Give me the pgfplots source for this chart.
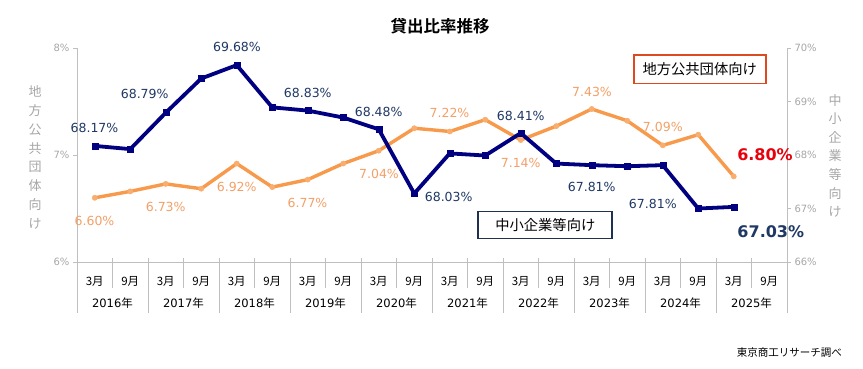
\documentclass[border=0pt]{standalone}
\usepackage{pgfplots}
\pgfplotsset{compat=1.18}
\usepackage{fontspec}
\setmainfont{DejaVu Sans}
\newfontfamily\jp{Noto Sans CJK JP}[BoldFont={Noto Sans CJK JP Bold}]
\definecolor{navyline}{HTML}{000080}
\definecolor{orangeline}{HTML}{F79A4B}
\definecolor{orangelab}{HTML}{F2A068}
\definecolor{navylab}{HTML}{1F3864}
\definecolor{tickgray}{HTML}{A6A6A6}
\definecolor{sepgray}{HTML}{BFBFBF}
\definecolor{redlab}{HTML}{E8000B}
\definecolor{boxred}{HTML}{DC4A1E}
\definecolor{boxnavy}{HTML}{1F3050}
\newcommand\fs[1]{\fontsize{#1bp}{#1bp}\selectfont}
\begin{document}
\begin{tikzpicture}
\path[use as bounding box] (0,0) rectangle (863bp,-369bp);
% left axis: 地方公共団体向け
\begin{axis}[at={(77bp,-262bp)}, anchor=south west, scale only axis,
  width=710bp, height=214bp, xmin=0, xmax=20, ymin=6, ymax=8,
  axis x line*=bottom, axis y line*=left,
  axis line style={draw=sepgray, line width=0.8bp, -},
  xtick={0.5,1.5,...,19.5},
  xticklabels={3月,9月,3月,9月,3月,9月,3月,9月,3月,9月,3月,9月,3月,9月,3月,9月,3月,9月,3月,9月},
  xticklabel style={font=\jp\fs{11.5}, anchor=center, yshift=-15.7bp},
  xtick style={draw=none},
  ytick={6,7,8}, yticklabels={6\%,7\%,8\%},
  yticklabel style={font=\fs{10}, text=tickgray},
  ytick style={draw=sepgray, line width=0.8bp},
  tick align=outside, major tick length=4bp,
  clip=false]
\addplot[orangeline, line width=3.4bp, mark=*, mark size=2.6bp,
  mark options={fill=orangeline!80!white, draw=orangeline!80!white, line width=0.5bp}]
  coordinates {
  (0.5,6.60) (1.5,6.66) (2.5,6.73) (3.5,6.685) (4.5,6.92) (5.5,6.70)
  (6.5,6.77) (7.5,6.92) (8.5,7.04) (9.5,7.25) (10.5,7.22) (11.5,7.33)
  (12.5,7.14) (13.5,7.27) (14.5,7.43) (15.5,7.32) (16.5,7.09) (17.5,7.19)
  (18.5,6.80)};
\end{axis}
% right axis: 中小企業等向け
\begin{axis}[at={(77bp,-262bp)}, anchor=south west, scale only axis,
  width=710bp, height=214bp, xmin=0, xmax=20, ymin=66, ymax=70,
  axis x line=none, axis y line*=right,
  axis line style={draw=sepgray, line width=0.8bp, -},
  xtick=\empty,
  ytick={66,67,68,69,70}, yticklabels={66\%,67\%,68\%,69\%,70\%},
  yticklabel style={font=\fs{10}, text=tickgray},
  ytick style={draw=sepgray, line width=0.8bp},
  tick align=outside, major tick length=4bp,
  clip=false]
\addplot[navyline, line width=3.8bp, mark=square*, mark size=3bp,
  mark options={fill=navyline, draw=navyline, line width=0.5bp}]
  coordinates {
  (0.5,68.17) (1.5,68.11) (2.5,68.79) (3.5,69.43) (4.5,69.68) (5.5,68.89)
  (6.5,68.83) (7.5,68.70) (8.5,68.48) (9.5,67.28) (10.5,68.03) (11.5,67.99)
  (12.5,68.41) (13.5,67.84) (14.5,67.81) (15.5,67.79) (16.5,67.81) (17.5,67.00)
  (18.5,67.03)};
\end{axis}
% category separators
\foreach \k in {0,...,20} {
  \pgfmathsetmacro\xx{77+35.5*\k}
  \ifodd\k
    \draw[sepgray, line width=0.8bp] (\xx bp,-258bp) -- (\xx bp,-288bp);
  \else
    \draw[sepgray, line width=0.8bp] (\xx bp,-258bp) -- (\xx bp,-313bp);
  \fi
}
\foreach \y [count=\c from 0] in {2016,2017,2018,2019,2020,2021,2022,2023,2024,2025} {
  \pgfmathsetmacro\xx{112.5+71*\c}
  \node[font=\fs{11.5}] at (\xx bp,-303bp) {\y{\jp 年}};
}
% data labels
\begin{scope}[every node/.style={font=\fs{12.5}, text=navylab, inner sep=0pt}]
\node at (94.5bp,-127.7bp) {68.17\%};
\node at (144.7bp,-94bp) {68.79\%};
\node at (237bp,-47bp) {69.68\%};
\node at (307.8bp,-92.7bp) {68.83\%};
\node at (378.7bp,-111.7bp) {68.48\%};
\node at (448.7bp,-197.3bp) {68.03\%};
\node at (520.8bp,-116bp) {68.41\%};
\node at (591.7bp,-187.3bp) {67.81\%};
\node at (652.8bp,-204bp) {67.81\%};
\node[font=\bfseries\fs{16}] at (770.8bp,-231.7bp) {67.03\%};
\end{scope}
\begin{scope}[every node/.style={font=\fs{12.5}, text=orangelab, inner sep=0pt}]
\node at (94.5bp,-220.7bp) {6.60\%};
\node at (165.7bp,-206.7bp) {6.73\%};
\node at (236.7bp,-186.7bp) {6.92\%};
\node at (307.5bp,-202.7bp) {6.77\%};
\node at (379bp,-174bp) {7.04\%};
\node at (449.5bp,-113.3bp) {7.22\%};
\node at (520.7bp,-162.7bp) {7.14\%};
\node at (592bp,-91.7bp) {7.43\%};
\node at (662.8bp,-127.3bp) {7.09\%};
\node[font=\bfseries\fs{16}, text=redlab] at (765bp,-155bp) {6.80\%};
\end{scope}
% title
\node[font=\jp\bfseries\fs{16.5}] at (440bp,-26.5bp) {貸出比率推移};
% axis titles
\node[font=\jp\fontsize{13bp}{18.8bp}\selectfont, text=tickgray, align=center] at (35bp,-157.4bp)
  {地\\方\\公\\共\\団\\体\\向\\け};
\node[font=\jp\fontsize{13bp}{18.6bp}\selectfont, text=tickgray, align=center] at (835bp,-155.9bp)
  {中\\小\\企\\業\\等\\向\\け};
% legend boxes
\node[draw=boxred, line width=1.8bp, minimum width=132bp, minimum height=28.5bp,
  font=\jp\fs{14.3}, fill=white] at (699.7bp,-69.2bp) {地方公共団体向け};
\node[draw=boxnavy, line width=1.8bp, minimum width=134bp, minimum height=27bp,
  font=\jp\fs{14.3}, fill=white] at (545.3bp,-225bp) {中小企業等向け};
% source
\node[font=\jp\fs{10.5}, anchor=east, inner sep=0pt] at (842bp,-352.5bp) {東京商工リサーチ調べ};
\end{tikzpicture}
\end{document}
